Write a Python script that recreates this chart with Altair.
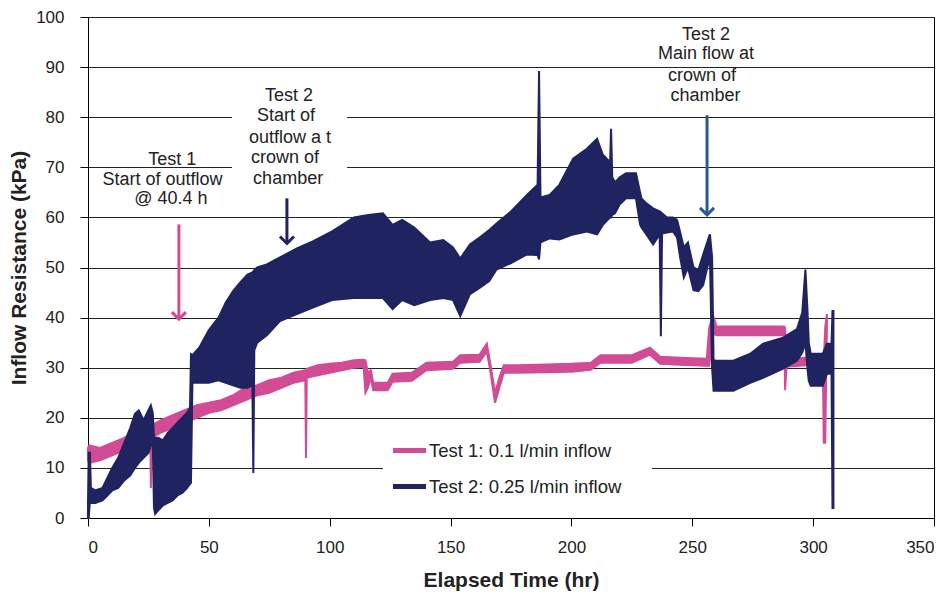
import altair as alt
import pandas as pd

FONT = "Liberation Sans"
series_names = ["Test 1: 0.1 l/min inflow", "Test 2: 0.25 l/min inflow"]
series_colors = ["#d14c95", "#1f2360"]

# ---- Test 1 (0.1 l/min) : lower / upper envelope of the trace ----
t1_x = [0, 0.5, 5, 10, 15, 20, 25, 25.8, 26.0, 26.3, 30, 35, 40, 45, 50, 55, 60, 65, 70, 75, 80, 85,
        89.9, 90.2, 90.5, 95, 100, 105, 110, 114, 114.8, 115.8, 117, 118, 124, 126, 134, 140, 151,
        154, 162, 165, 166.3, 168.4, 170.5, 172, 178, 200, 208, 212, 225, 232.5, 236.7, 245, 256,
        257.0, 258.6, 260, 275, 288, 288.4, 289, 297, 304, 304.4, 305.0, 305.7]
t1_lo = [11.5, 11.0, 11.5, 12.5, 13.5, 14.5, 15.5, 15.5, 6.0, 16.0, 17.0, 18.0, 19.0, 20.0, 21.0, 21.5,
         22.5, 23.5, 24.5, 25.0, 26.0, 27.0, 27.5, 12.0, 28.0, 28.5, 29.0, 29.5, 30.0, 30.2, 25.0, 26.0,
         28.0, 25.5, 25.5, 27.2, 27.4, 29.5, 29.8, 31.0, 31.2, 33.2, 29.8, 23.0, 26.5, 29.0, 29.0, 29.2,
         29.6, 31.0, 31.0, 32.6, 30.8, 30.6, 30.4, 30.4, 36.8, 36.5, 36.5, 36.5, 25.5, 30.2, 30.5, 30.5,
         15.0, 15.0, 38.0]
t1_hi = [14.0, 14.5, 14.0, 15.0, 16.0, 17.5, 18.0, 18.0, 18.0, 18.5, 19.5, 20.5, 21.5, 22.5, 23.0, 23.5,
         24.5, 26.0, 26.5, 27.5, 28.0, 29.0, 29.5, 29.5, 29.8, 30.5, 30.8, 31.0, 31.5, 31.6, 31.5, 29.0,
         29.5, 27.0, 27.0, 28.8, 29.0, 31.0, 31.2, 32.5, 32.6, 34.8, 31.2, 25.0, 28.5, 30.5, 30.5, 30.8,
         31.0, 32.5, 32.5, 34.0, 32.2, 32.0, 31.8, 38.0, 40.5, 38.2, 38.2, 38.2, 38.0, 31.8, 32.0, 32.0,
         31.5, 38.0, 40.7]

# ---- Test 2 (0.25 l/min) : lower / upper envelope of the oscillating trace ----
t2_x = [0.0, 0.3, 0.8, 1.2, 3, 6, 8, 10, 12.5, 15, 17.5, 19.4, 21.0, 23.0, 25.0, 26.0, 26.8, 27.3, 27.8,
        29, 31, 33, 35, 37, 39, 41, 42.2, 42.6, 43.2, 46, 50, 54, 57, 60, 63, 66, 68.0, 68.4, 68.8, 70,
        74, 79.4, 86.4, 93, 101, 110, 116, 122, 126, 130, 135, 141.5, 147, 151, 154, 158, 162, 166,
        169, 174.6, 181.6, 186.0, 186.6, 187.2, 191, 195, 200.7, 206.4, 210.6, 213, 216.0, 216.4,
        216.9, 218, 220, 222.6, 226.7, 228.4, 229, 231, 233.8, 236.5, 237.0, 237.5, 239.5, 242, 243.7,
        245, 246.5, 248.2, 250.5, 252.5, 254.5, 256.5, 257.3, 258.2, 258.8, 260, 267, 274, 279.3,
        287.6, 293.3, 295.5, 296.8, 297.6, 298.2, 299, 304, 305.7, 307.6, 308.0, 308.4]
t2_lo = [0.0, 0.0, 3.5, 3.0, 3.0, 3.5, 4.5, 5.5, 6.0, 7.5, 8.5, 10.0, 11.0, 12.0, 13.0, 14.5, 14.8, 2.0,
         0.8, 1.5, 2.5, 3.0, 3.5, 4.5, 5.0, 6.0, 6.8, 7.0, 27.0, 27.0, 27.0, 27.5, 27.0, 26.5, 26.0, 26.0,
         26.5, 9.0, 33.5, 35.0, 36.5, 39.3, 40.7, 42.0, 43.5, 43.9, 43.9, 43.9, 41.7, 43.5, 42.5, 43.5,
         43.9, 43.5, 40.3, 44.7, 45.9, 47.3, 49.6, 50.8, 52.6, 52.5, 51.6, 55.0, 55.8, 55.6, 56.6, 57.2,
         56.6, 58.5, 60.0, 60.0, 60.5, 60.8, 62.6, 63.8, 63.8, 58.6, 58.0, 56.6, 54.6, 56.6, 36.3, 56.8,
         57.0, 57.2, 56.0, 52.0, 48.0, 50.0, 45.5, 45.3, 46.5, 50.6, 52.0, 30.0, 25.4, 25.4, 25.4, 27.0,
         28.0, 29.8, 31.4, 33.0, 35.0, 30.0, 27.4, 26.4, 26.4, 28.8, 28.8, 2.0, 2.0]
t2_hi = [3.0, 13.0, 13.0, 6.0, 5.5, 6.0, 8.0, 10.0, 12.0, 15.0, 18.0, 20.8, 21.5, 19.5, 21.5, 22.5, 21.0,
         16.0, 16.0, 16.0, 15.5, 17.0, 18.0, 19.0, 20.0, 21.0, 22.0, 32.7, 32.5, 34.0, 37.5, 40.0, 43.0,
         45.3, 47.0, 48.6, 49.0, 49.2, 49.5, 50.0, 50.6, 52.0, 53.8, 55.2, 57.2, 60.0, 60.5, 60.8, 58.5,
         59.5, 58.0, 55.0, 55.5, 54.0, 51.8, 54.6, 56.0, 57.5, 58.8, 61.0, 64.5, 66.5, 89.2, 64.0, 64.5,
         66.5, 71.7, 73.7, 75.7, 72.5, 71.0, 77.7, 68.0, 67.0, 68.0, 68.8, 68.8, 65.0, 63.8, 62.8, 61.8,
         61.2, 61.0, 60.8, 60.0, 60.0, 59.5, 57.0, 54.0, 55.0, 50.0, 49.5, 52.6, 55.5, 56.6, 52.0, 31.5,
         31.4, 31.4, 32.8, 34.8, 36.0, 37.7, 41.0, 49.6, 42.0, 35.0, 32.8, 32.8, 34.8, 34.8, 41.3, 41.3]

# ---- annotations ----
ann_text = ["Test 1", "Start of outflow", "@ 40.4 h",
            "Test 2", "Start of", "outflow a t", "crown of", "chamber",
            "Test 2", "Main flow at", "crown of", "chamber"]
ann_x = [34.9, 30.8, 34.3, 83.2, 81.9, 83.6, 81.5, 82.8, 255.7, 255.7, 254.0, 255.5]
ann_y = [71.5, 67.5, 63.6, 84.3, 80.2, 75.9, 71.9, 67.6, 96.5, 92.6, 88.2, 84.2]

arrow_x = [37.6, 82.3, 256.1]
arrow_top = [58.6, 63.8, 80.4]
arrow_tip = [39.7, 54.8, 60.5]
arrow_color = ["#d14c95", "#1f2360", "#2b5a8c"]

# white boxes behind the legend and the left "Test 2" note
box_x = [59.6, 122.0]
box_x2 = [107.2, 233.3]
box_y = [62.0, 1.5]
box_y2 = [88.0, 19.0]

df1 = pd.DataFrame({"t": t1_x, "lo": t1_lo, "hi": t1_hi, "series": series_names[0]})
df2 = pd.DataFrame({"t": t2_x, "lo": t2_lo, "hi": t2_hi, "series": series_names[1]})
ann_df = pd.DataFrame({"x": ann_x, "y": ann_y, "text": ann_text})
arrow_df = pd.DataFrame({"x": arrow_x, "top": arrow_top, "tip": arrow_tip, "c": arrow_color})
box_df = pd.DataFrame({"x": box_x, "x2": box_x2, "y": box_y, "y2": box_y2})

xs = alt.Scale(domain=[0, 350], nice=False, zero=False)
ys = alt.Scale(domain=[0, 100], nice=False, zero=False)
cscale = alt.Scale(domain=series_names, range=series_colors)

x_axis = alt.Axis(values=list(range(0, 351, 50)), grid=False, tickSize=8, labelPadding=13,
                  labelFontSize=17, title="Elapsed Time (hr)", titleFontSize=21,
                  titleFontWeight="bold", titlePadding=14)
y_axis = alt.Axis(values=list(range(0, 101, 10)), grid=True, tickSize=8, labelPadding=16,
                  labelFontSize=17, title="Inflow Resistance (kPa)", titleFontSize=21,
                  titleFontWeight="bold", titlePadding=6)

legend = alt.Legend(title=None, orient="none", legendX=305, legendY=417,
                    symbolType="M-1,-0.15H1V0.15H-1Z", symbolSize=1089, symbolStrokeWidth=0,
                    labelFontSize=18.5, rowPadding=10, padding=0, labelOffset=3,
                    labelColor="#222222", labelLimit=400)

boxes = alt.Chart(box_df).mark_rect(fill="white").encode(
    x=alt.X("x:Q", scale=xs, axis=x_axis), x2="x2:Q",
    y=alt.Y("y:Q", scale=ys, axis=y_axis), y2="y2:Q")


def band(d, col):
    return alt.Chart(d).mark_area(stroke=col, strokeWidth=2, opacity=1, interpolate="linear").encode(
        x=alt.X("t:Q", scale=xs),
        y=alt.Y("lo:Q", scale=ys),
        y2="hi:Q",
        fill=alt.Fill("series:N", scale=cscale, legend=legend),
    )


pink = band(df1, series_colors[0])
navy = band(df2, series_colors[1])

text = alt.Chart(ann_df).mark_text(fontSize=18, color="#222222", baseline="middle",
                                   align="center").encode(
    x=alt.X("x:Q", scale=xs), y=alt.Y("y:Q", scale=ys), text="text:N")

shafts = alt.Chart(arrow_df).mark_rule(strokeWidth=3).encode(
    x=alt.X("x:Q", scale=xs), y=alt.Y("top:Q", scale=ys), y2="tip:Q",
    color=alt.Color("c:N", scale=None))

heads = alt.Chart(arrow_df).mark_point(shape="M-1,-1L0,0L1,-1", filled=False, strokeWidth=3,
                                       size=196, opacity=1).encode(
    x=alt.X("x:Q", scale=xs), y=alt.Y("tip:Q", scale=ys),
    color=alt.Color("c:N", scale=None))

chart = alt.layer(boxes, pink, navy, shafts, heads, text).properties(
    width=846, height=501,
    padding={"left": 80, "top": 9, "right": 5, "bottom": 76},
    autosize=alt.AutoSizeParams(type="none"),
).configure(font=FONT).configure_view(stroke="#000000", strokeWidth=1).configure_axis(
    domainColor="#000000", tickColor="#000000", gridColor="#222222", gridWidth=1,
    labelColor="#222222", titleColor="#222222", labelFont=FONT, titleFont=FONT,
).configure_legend(labelFont=FONT)

chart.save("out.html", embed_options={"renderer": "svg", "actions": False})
